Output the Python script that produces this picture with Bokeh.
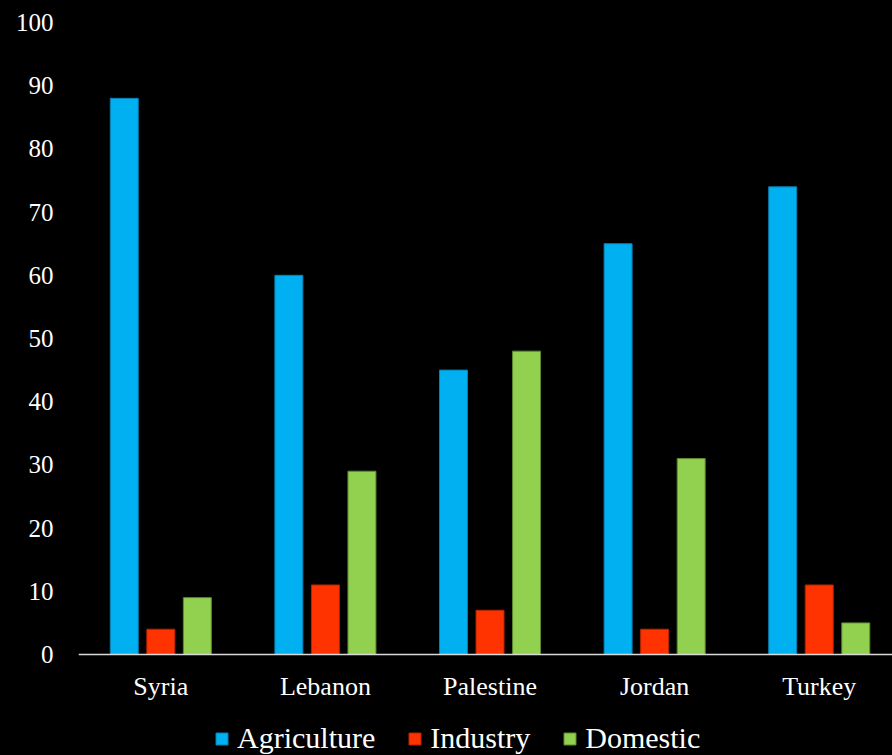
from bokeh.plotting import figure
from bokeh.models import (Range1d, FixedTicker, Legend, LegendItem, ColumnDataSource)
from bokeh.embed import file_html
from bokeh.resources import INLINE

# Water withdrawal share by sector (%)
countries = ["Syria", "Lebanon", "Palestine", "Jordan", "Turkey"]
agriculture = [88, 60, 45, 65, 74]
industry = [4, 11, 7, 4, 11]
domestic = [9, 29, 48, 31, 5]
y_ticks = list(range(0, 101, 10))

series = [
    ("Agriculture", agriculture, "#00B0F0", "#0A7FB0", -0.222),
    ("Industry", industry, "#FF3300", "#B82400", 0.0),
    ("Domestic", domestic, "#92D050", "#5E8A30", 0.222),
]

# single-word family so the SVG font string parses cleanly
FONT = "Times"

# The frame runs to the bottom edge; the value axis is pinned at 0 so the
# category labels and the legend share the space underneath it.
p = figure(frame_width=814, frame_height=733, output_backend="svg",
           toolbar_location=None,
           x_range=Range1d(-0.5, 4.445), y_range=Range1d(-15.98, 100),
           min_border_left=78, min_border_right=0, min_border_top=22,
           min_border_bottom=0)
p.background_fill_color = "black"
p.border_fill_color = "black"
p.outline_line_color = None
p.styles = {"background-color": "black"}
p.xgrid.grid_line_color = None
p.ygrid.grid_line_color = None

items = []
idx = list(range(len(countries)))
for name, vals, fill, edge, off in series:
    src = ColumnDataSource(dict(x=[i + off for i in idx], top=vals))
    r = p.vbar(x="x", top="top", width=0.17, source=src,
               fill_color=fill, line_color=edge, line_width=1)
    items.append(LegendItem(label=name, renderers=[r]))

# y axis: labels only
p.yaxis.ticker = FixedTicker(ticks=y_ticks)
p.yaxis.axis_line_color = None
p.yaxis.major_tick_line_color = None
p.yaxis.minor_tick_line_color = None
p.yaxis.major_tick_out = 0
p.yaxis.major_tick_in = 0
p.yaxis.major_label_standoff = 25
p.yaxis.major_label_text_font = FONT
p.yaxis.major_label_text_font_size = "25px"
p.yaxis.major_label_text_color = "white"

# x axis: baseline at zero with country names
p.xaxis.fixed_location = 0
p.xaxis.ticker = FixedTicker(ticks=idx)
p.xaxis.major_label_overrides = {i: c for i, c in zip(idx, countries)}
p.xaxis.axis_line_color = "#D9D9D9"
p.xaxis.axis_line_width = 1.5
p.xaxis.major_tick_line_color = None
p.xaxis.minor_tick_line_color = None
p.xaxis.major_tick_out = 0
p.xaxis.major_tick_in = 0
p.xaxis.major_label_standoff = 17
p.xaxis.major_label_text_font = FONT
p.xaxis.major_label_text_font_size = "26px"
p.xaxis.major_label_text_color = "white"

legend = Legend(items=items, orientation="horizontal", location=(136, 0),
                background_fill_alpha=0, border_line_color=None,
                label_text_color="white", label_text_font=FONT,
                label_text_font_size="30px", glyph_width=15, glyph_height=15,
                spacing=32, label_standoff=8, padding=0, margin=0)
p.add_layout(legend)

open("out.html", "w").write(file_html(p, INLINE))
